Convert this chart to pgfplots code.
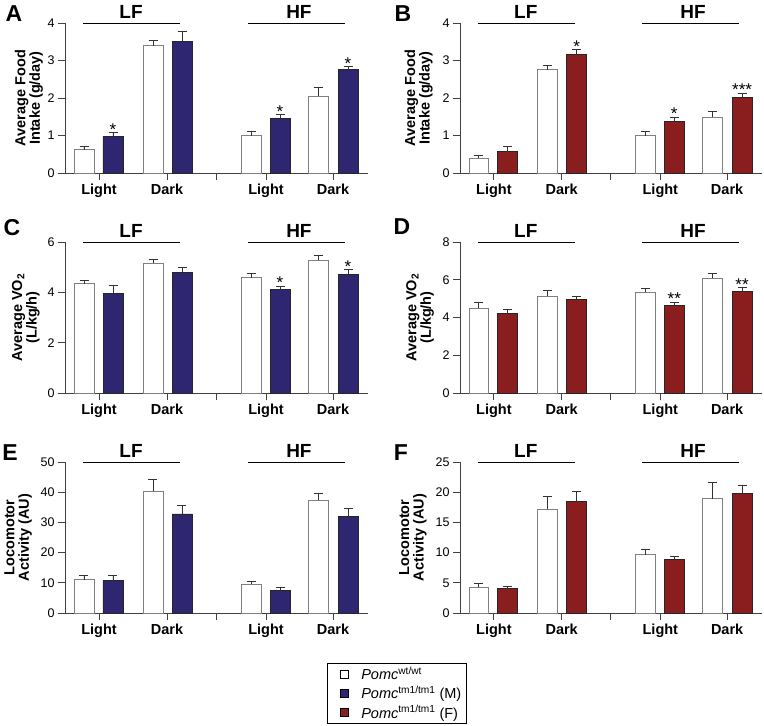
\documentclass[border=0pt]{standalone}
\usepackage{pgfplots}
\pgfplotsset{compat=1.18}
\usepackage{fontspec}
\setmainfont{Liberation Sans}
\definecolor{mblue}{RGB}{46,38,113}
\definecolor{fred}{RGB}{138,30,30}
\newcommand{\lab}[1]{\fontsize{#1}{#1}\selectfont}
\newcommand{\sig}[3]{\node[anchor=south, inner sep=0pt, yshift=-3pt, font=\lab{17}] at (axis cs:#1,#2) {#3};}

\pgfplotsset{
 panel/.style={scale only axis, width=303pt, height=151pt, xmin=0, xmax=303, ymin=0, clip=false,
  axis x line*=bottom, axis y line*=left,
  axis line style={black!75, line width=0.9pt},
  every tick/.style={black!75, line width=0.9pt},
  tick align=outside, major tick length=7pt,
  xtick={34,102,151,201,268}, xticklabels={Light,Dark,{},Light,Dark},
  xticklabel style={font=\bfseries\lab{14.5}},
  yticklabel style={font=\lab{12.5}},
  /pgf/number format/assume math mode=true,
  ylabel style={font=\bfseries\lab{14.5}, align=center, anchor=center},
  extra description/.code={
    \draw[black, line width=0.9pt] (axis description cs:0.0594,1) -- (axis description cs:0.3795,1);
    \draw[black, line width=0.9pt] (axis description cs:0.604,1) -- (axis description cs:0.924,1);
    \node[anchor=south, inner sep=0pt, yshift=4pt, font=\bfseries\lab{19}] at (axis description cs:0.218,1) {LF};
    \node[anchor=south, inner sep=0pt, yshift=4pt, font=\bfseries\lab{19}] at (axis description cs:0.772,1) {HF};
  }
 },
 ebar/.style={error bars/.cd, y dir=plus, y explicit, error bar style={black!80, line width=0.9pt}, error mark options={rotate=90, black!80, line width=0.9pt, mark size=4.5pt}},
 wbar/.style={ybar, bar width=20, bar shift=0pt, fill=white, draw=black!50, line width=0.9pt, ebar},
 bbar/.style={ybar, bar width=20, bar shift=0pt, fill=mblue, draw=black!85, line width=0.9pt, ebar},
 rbar/.style={ybar, bar width=20, bar shift=0pt, fill=fred, draw=black!85, line width=0.9pt, ebar},
}

\begin{document}
\begin{tikzpicture}
\useasboundingbox (0,0) rectangle (764pt,-726pt);

% A
\begin{axis}[panel, at={(65pt,-173pt)}, anchor=south west, height=150pt, ymax=4, ytick={0,1,2,3,4},
  ylabel={Average Food\\Intake (g/day)}, ylabel style={at={(axis description cs:-0.119,0.5)}}]
\addplot[wbar] coordinates {(19,0.62) +- (0,0.09) (88,3.40) +- (0,0.14) (186,1.00) +- (0,0.11) (253,2.05) +- (0,0.23)};
\addplot[bbar] coordinates {(48,0.98) +- (0,0.10) (117,3.52) +- (0,0.25) (215,1.46) +- (0,0.10) (283,2.76) +- (0,0.08)};
\sig{48}{1.08}{*}\sig{215}{1.56}{*}\sig{283}{2.84}{*}
\end{axis}

% B
\begin{axis}[panel, at={(460pt,-173pt)}, anchor=south west, height=150pt, width=302pt, ymax=4, ytick={0,1,2,3,4},
  ylabel={Average Food\\Intake (g/day)}, ylabel style={at={(axis description cs:-0.137,0.5)}}]
\addplot[wbar] coordinates {(19,0.40) +- (0,0.08) (88,2.76) +- (0,0.11) (186,1.00) +- (0,0.12) (253,1.49) +- (0,0.14)};
\addplot[rbar] coordinates {(48,0.57) +- (0,0.13) (117,3.16) +- (0,0.14) (215,1.37) +- (0,0.12) (283,2.02) +- (0,0.11)};
\sig{117}{3.30}{*}\sig{215}{1.49}{*}\sig{283}{2.13}{***}
\end{axis}

% C
\begin{axis}[panel, at={(65pt,-393pt)}, anchor=south west, ymax=6, ytick={0,2,4,6},
  ylabel={Average VO\textsubscript{2}\\(L/kg/h)}, ylabel style={at={(axis description cs:-0.129,0.5)}}]
\addplot[wbar] coordinates {(19,4.34) +- (0,0.15) (88,5.15) +- (0,0.15) (186,4.58) +- (0,0.16) (253,5.27) +- (0,0.21)};
\addplot[bbar] coordinates {(48,3.97) +- (0,0.32) (117,4.79) +- (0,0.20) (215,4.12) +- (0,0.13) (283,4.72) +- (0,0.17)};
\sig{215}{4.25}{*}\sig{283}{4.89}{*}
\end{axis}

% D
\begin{axis}[panel, at={(460pt,-393pt)}, anchor=south west, width=302pt, ymax=8, ytick={0,2,4,6,8},
  ylabel={Average VO\textsubscript{2}\\(L/kg/h)}, ylabel style={at={(axis description cs:-0.132,0.5)}}]
\addplot[wbar] coordinates {(19,4.50) +- (0,0.29) (88,5.12) +- (0,0.34) (186,5.35) +- (0,0.20) (253,6.08) +- (0,0.23)};
\addplot[rbar] coordinates {(48,4.20) +- (0,0.22) (117,4.96) +- (0,0.18) (215,4.63) +- (0,0.19) (283,5.39) +- (0,0.18)};
\sig{215}{4.82}{**}\sig{283}{5.57}{**}
\end{axis}

% E
\begin{axis}[panel, at={(65pt,-613pt)}, anchor=south west, ymax=50, ytick={0,10,20,30,40,50},
  ylabel={Locomotor\\Activity (AU)}, ylabel style={at={(axis description cs:-0.155,0.5)}}]
\addplot[wbar] coordinates {(19,11.0) +- (0,1.5) (88,40.4) +- (0,3.8) (186,9.5) +- (0,1.1) (253,37.3) +- (0,2.2)};
\addplot[bbar] coordinates {(48,10.7) +- (0,1.6) (117,32.8) +- (0,2.7) (215,7.4) +- (0,1.0) (283,31.9) +- (0,2.6)};
\end{axis}

% F
\begin{axis}[panel, at={(460pt,-613pt)}, anchor=south west, width=302pt, ymax=25, ytick={0,5,10,15,20,25},
  ylabel={Locomotor\\Activity (AU)}, ylabel style={at={(axis description cs:-0.156,0.5)}}]
\addplot[wbar] coordinates {(19,4.30) +- (0,0.56) (88,17.2) +- (0,2.1) (186,9.66) +- (0,0.84) (253,18.9) +- (0,2.7)};
\addplot[rbar] coordinates {(48,4.03) +- (0,0.39) (117,18.4) +- (0,1.8) (215,8.9) +- (0,0.5) (283,19.8) +- (0,1.4)};
\end{axis}

% Legend
\begin{axis}[hide axis, scale only axis, width=10pt, height=10pt, at={(327pt,-663pt)}, anchor=north west,
  xmin=0, xmax=1, ymin=0, ymax=1,
  legend style={at={(axis description cs:0,1)}, anchor=north west, draw=black, line width=0.6pt,
    font=\lab{14.5}, legend cell align=left, inner xsep=3pt, inner ysep=2pt, row sep=1pt}]
\addlegendimage{legend image code/.code={\draw[fill=white, draw=black, line width=0.8pt] (10pt,-4pt) rectangle (18pt,4pt); \path[draw=none, fill=none] (0pt,0pt) -- (22pt,0pt);}}
\addlegendentry{\hspace*{7pt}\textit{Pomc}\textsuperscript{wt/wt}}
\addlegendimage{legend image code/.code={\draw[fill=mblue, draw=black, line width=0.8pt] (10pt,-4pt) rectangle (18pt,4pt); \path[draw=none, fill=none] (0pt,0pt) -- (22pt,0pt);}}
\addlegendentry{\hspace*{7pt}\textit{Pomc}\textsuperscript{tm1/tm1} (M)}
\addlegendimage{legend image code/.code={\draw[fill=fred, draw=black, line width=0.8pt] (10pt,-4pt) rectangle (18pt,4pt); \path[draw=none, fill=none] (0pt,0pt) -- (22pt,0pt);}}
\addlegendentry{\hspace*{7pt}\textit{Pomc}\textsuperscript{tm1/tm1} (F)}
\end{axis}

% Panel letters
\node[font=\bfseries\lab{23}] at (14pt,-14pt) {A};
\node[font=\bfseries\lab{23}] at (403pt,-14pt) {B};
\node[font=\bfseries\lab{23}] at (12pt,-228pt) {C};
\node[font=\bfseries\lab{23}] at (402pt,-227pt) {D};
\node[font=\bfseries\lab{23}] at (10pt,-453pt) {E};
\node[font=\bfseries\lab{23}] at (401pt,-453pt) {F};
\end{tikzpicture}
\end{document}
